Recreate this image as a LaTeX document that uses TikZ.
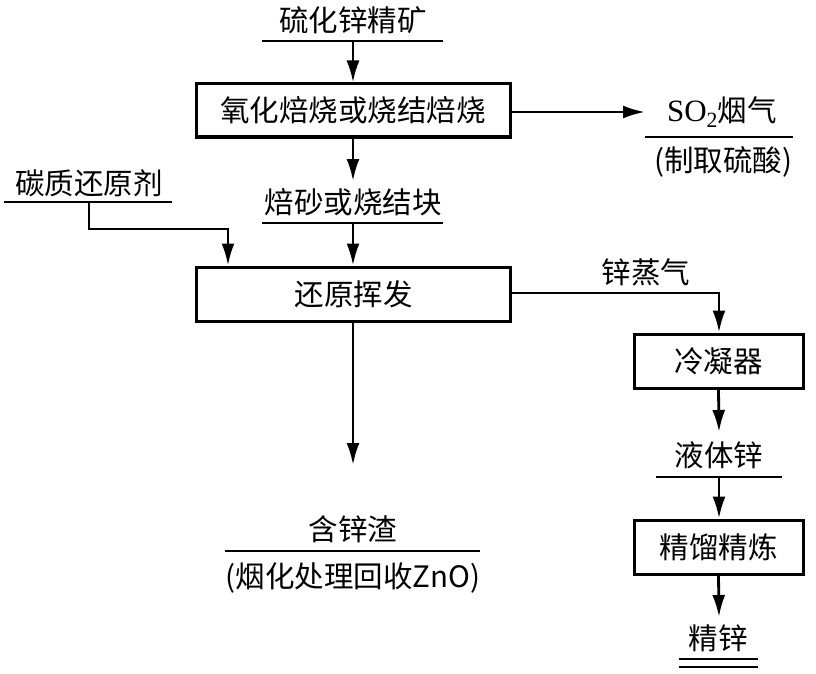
\documentclass[tikz,border=0pt]{standalone}
\usepackage{fontspec}
\setmainfont{Liberation Serif}
\newfontfamily\cjk{Noto Sans CJK SC}
\usetikzlibrary{arrows.meta}
\begin{document}
\begin{tikzpicture}[x=1pt,y=-1pt,
  ln/.style={line width=2.8pt},
  arr/.style={line width=2.8pt,-{Latex[length=22pt,width=13pt]}},
  box/.style={draw,line width=3pt,inner sep=0pt,font=\cjk\fontsize{29.5}{34}\selectfont},
  lbl/.style={inner sep=0pt,font=\cjk\fontsize{29.5}{34}\selectfont}]
\useasboundingbox (0,0) rectangle (816,674);
% top input
\node[lbl] (t1) at (353,20) {硫化锌精矿};
\coordinate (u1a) at (262,41); \coordinate (u1b) at (443,41); \coordinate (u1) at (353,41);
\draw[ln] (u1a) -- (u1b);
% roasting box
\node[box,minimum width=314pt,minimum height=53pt] (b1) at (353,110.5) {氧化焙烧或烧结焙烧};
\draw[arr] (u1) -- (u1 |- b1.north);
% SO2
\coordinate (so2t) at (645,112);
\draw[arr] (b1.east |- so2t) -- (so2t);
\node[lbl] (so2) at (722,112) {{\rmfamily\fontsize{31}{34}\selectfont SO\textsubscript{2}}烟气};
\coordinate (u2a) at (645,137); \coordinate (u2b) at (793,137);
\draw[ln] (u2a) -- (u2b);
\node[lbl] (acid) at (723,162) {(制取硫酸)};
% calcine
\coordinate (c1) at (353,181);
\draw[arr] (b1.south) -- (c1);
\node[lbl] (t2) at (353,202) {焙砂或烧结块};
\coordinate (u3a) at (262,223); \coordinate (u3b) at (443,223); \coordinate (u3) at (353,223);
\draw[ln] (u3a) -- (u3b);
% reduction box
\node[box,minimum width=314pt,minimum height=54pt] (b2) at (353.5,294) {还原挥发};
\draw[arr] (u3) -- (u3 |- b2.north);
% carbon reductant
\node[lbl] (t3) at (89,183) {碳质还原剂};
\coordinate (u4a) at (4,202); \coordinate (u4b) at (172,202); \coordinate (u4) at (89,202);
\draw[ln] (u4a) -- (u4b);
\coordinate (k1) at (89,229); \coordinate (k2) at (228,229);
\draw[arr] (u4) -- (k1) -- (k2) -- (k2 |- b2.north);
% zinc vapour
\node[box,minimum width=169pt,minimum height=54pt] (b3) at (718.5,361) {冷凝器};
\coordinate (zv) at (719,293);
\draw[arr] (b2.east |- zv) -- (zv) -- (zv |- b3.north);
\node[lbl] (t4) at (646,272) {锌蒸气};
% liquid zinc
\coordinate (c2) at (719,432);
\draw[arr] (b3.south) -- (c2);
\node[lbl] (t5) at (719,455) {液体锌};
\coordinate (u5a) at (656,477); \coordinate (u5b) at (782,477); \coordinate (u5) at (719,477);
\draw[ln] (u5a) -- (u5b);
\node[box,minimum width=169pt,minimum height=54pt] (b4) at (718.5,547) {精馏精炼};
\draw[arr] (u5) -- (u5 |- b4.north);
\coordinate (c3) at (719,617);
\draw[arr] (b4.south) -- (c3);
\node[lbl] (t6) at (718,638) {精锌};
\coordinate (u6a) at (679,659); \coordinate (u6b) at (758,659);
\coordinate (u7a) at (679,667); \coordinate (u7b) at (758,667);
\draw[ln] (u6a) -- (u6b);
\draw[ln] (u7a) -- (u7b);
% residue
\coordinate (c4) at (353,465);
\draw[arr] (b2.south -| c4) -- (c4);
\node[lbl] (t7) at (353,529) {含锌渣};
\coordinate (u8a) at (225,551); \coordinate (u8b) at (480,551);
\draw[ln] (u8a) -- (u8b);
\node[lbl] (t8) at (353,578) {(烟化处理回收ZnO)};
\end{tikzpicture}
\end{document}
